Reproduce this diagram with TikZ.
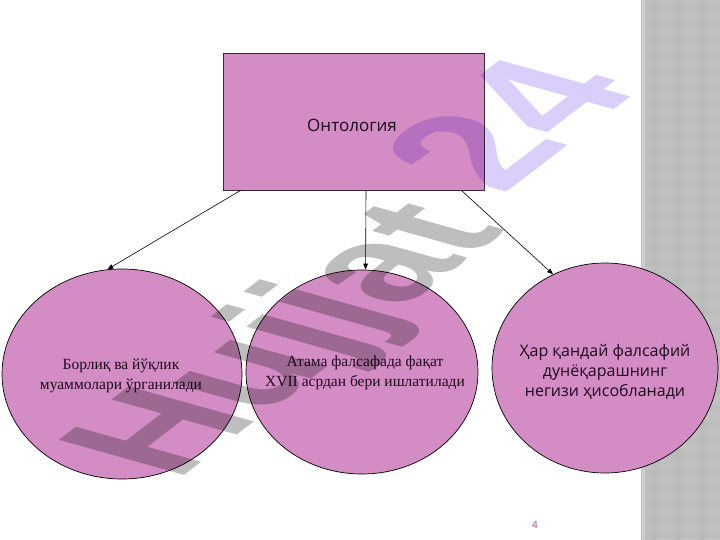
\documentclass[tikz,border=0pt]{standalone}
\usepackage{fontspec}
\setmainfont{Liberation Serif}
\newfontfamily\osans{Open Sans}
\newfontfamily\wmfont{Liberation Sans}
\usetikzlibrary{shapes.geometric,arrows.meta}
\definecolor{boxpink}{RGB}{212,140,196}
\definecolor{edgecol}{RGB}{60,40,60}
\definecolor{txtcol}{RGB}{30,10,30}
\definecolor{stripbase}{RGB}{192,192,192}
\definecolor{stripdark}{RGB}{180,180,180}
\definecolor{striplight}{RGB}{206,206,206}
\definecolor{wmgray}{RGB}{190,190,190}
\definecolor{wmlav}{RGB}{218,206,250}
\definecolor{pagenum}{RGB}{190,70,110}
\tikzset{
  pinkbox/.style={draw=edgecol, line width=0.8pt, fill=boxpink, rectangle, inner sep=0pt},
  pinkell/.style={draw=black, line width=0.7pt, fill=boxpink, ellipse, inner sep=0pt},
  serifnote/.style={align=center, text=txtcol, font=\fontsize{15.5}{19.5}\selectfont},
  sansnote/.style={align=center, text=txtcol, font=\osans\fontsize{16}{20}\selectfont},
  arr/.style={draw=black, line width=0.6pt, -{Triangle[length=6pt,width=4.5pt]}},
  wmark/.style={anchor=base west, inner sep=0pt, transform shape, font=\wmfont\bfseries\fontsize{100}{100}\selectfont}
}
\begin{document}
\begin{tikzpicture}[x=1pt,y=-1pt]
\useasboundingbox (0,0) rectangle (720,540);
\fill[white] (0,0) rectangle (720,540);
% checkered side strip
\fill[stripbase] (641,0) rectangle (720,540);
\foreach \k in {0,1,2} { \fill[stripdark, opacity=0.4] (652+24*\k,0) rectangle (657+24*\k,540); }
\foreach \k in {0,...,33} { \fill[stripdark, opacity=0.25] (645,6+16*\k) rectangle (720,10+16*\k); }
\fill[striplight] (642,0) rectangle (645,540);

% main shapes
\node[pinkbox, minimum width=261pt, minimum height=137pt] (onto) at (353.5,121.5) {};
\node[sansnote, font=\osans\fontsize{17}{20}\selectfont] (ontotext) at (352,125) {Онтология};

\node[pinkell, minimum width=240pt, minimum height=210pt] (left) at (122,374) {};
\node[pinkell, minimum width=232pt, minimum height=204pt] (mid) at (362,372) {};
\node[pinkell, minimum width=226pt, minimum height=210pt] (right) at (605,368) {};

\node[serifnote] (lefttext) at (121,376) {Борлиқ ва йўқлик\\муаммолари ўрганилади};
\node[serifnote] (midtext) at (365,373) {Атама фалсафада фақат\\XVII асрдан бери ишлатилади};
\node[sansnote] (righttext) at (605,372) {Ҳар қандай фалсафий\\дунёқарашнинг\\негизи ҳисобланади};

\draw[arr] ([xshift=18pt]onto.south west) -- (left.98);
\draw[arr] ([xshift=12.5pt]onto.south) -- (mid.88);
\draw[arr] ([xshift=-23pt]onto.south east) -- (right.119);

\node[text=pagenum, font=\osans\fontsize{10}{12}\selectfont] (page) at (535,525) {4};

% watermark
\begin{scope}[blend mode=multiply]
  \begin{scope}[shift={(176,482)}, cm={1.19,0.91,-1.82,0.51,(0,0)}]
    \node[wmark, text=wmgray] (wmone) at (0,0) {Hujjat};
  \end{scope}
  \begin{scope}[shift={(502,196)}, cm={1.27,0.97,-1.90,0.53,(0,0)}]
    \node[wmark, text=wmlav] (wmtwo) at (0,0) {24};
  \end{scope}
\end{scope}
\end{tikzpicture}
\end{document}
